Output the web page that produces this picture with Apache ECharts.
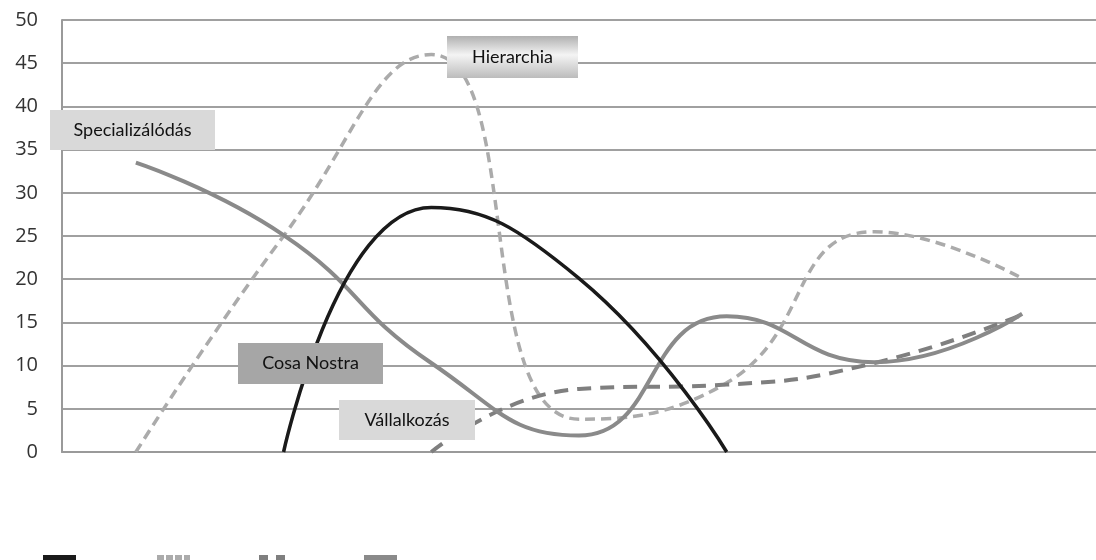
<!DOCTYPE html>
<html>
<head>
<meta charset="utf-8">
<script src="https://cdn.jsdelivr.net/npm/echarts@6/dist/echarts.min.js"></script>
<style>
  html, body { margin: 0; padding: 0; background: #fff; }
  #chart { width: 1096px; height: 560px; }
</style>
</head>
<body>
<div id="chart"></div>
<script>
// categories are not labelled in the picture
var categories = ["1", "2", "3", "4", "5", "6", "7"];
var yTicks = [0, 5, 10, 15, 20, 25, 30, 35, 40, 45, 50];

var cosaNostra = [null, 0, 28.3, 20.1, 0, null, null];
var hierarchia = [0, 25, 46, 3.8, 8, 25.5, 20.1];
var vallalkozas = [null, null, 0, 7.3, 7.8, 10.3, 15.9];
var specializalodas = [33.5, 25.1, 10.3, 1.9, 15.7, 10.4, 16];

var chartDom = document.getElementById("chart");
var myChart = echarts.init(chartDom);

function labelBox(x, y, w, h, text, fill) {
  return {
    type: "group",
    x: x,
    y: y,
    children: [
      { type: "rect", z: 100, shape: { x: 0, y: 0, width: w, height: h }, style: { fill: fill } },
      {
        type: "text",
        z: 101,
        x: w / 2,
        y: h / 2,
        style: {
          text: text,
          fill: "#111",
          font: "18px Lato",
          align: "center",
          verticalAlign: "middle",
        },
      },
    ],
  };
}

function legendItem(name, left, width, icon) {
  return {
    data: [name],
    left: left,
    top: 555,
    padding: 0,
    itemWidth: width,
    itemHeight: 8,
    icon: icon,
    selectedMode: false,
    formatter: function () {
      return "";
    },
  };
}

var option = {
  animation: false,
  backgroundColor: "#fff",
  grid: {
    left: 62,
    top: 20,
    width: 1044,
    height: 432,
  },
  legend: [
    legendItem("Cosa Nostra", 43, 33, "rect"),
    legendItem("Hierarchia", 157, 33, "path://M0,0h7v8h-7z M9,0h7v8h-7z M18,0h7v8h-7z M27,0h6v8h-6z"),
    legendItem("Vállalkozás", 259, 26, "path://M0,0h9v8h-9z M17,0h9v8h-9z"),
    legendItem("Specializálódás", 364, 33, "rect"),
  ],
  xAxis: {
    type: "category",
    boundaryGap: true,
    data: categories,
    axisLabel: { show: false },
    axisTick: { show: false },
    axisLine: { lineStyle: { color: "#9a9a9a", width: 2 } },
  },
  yAxis: {
    type: "value",
    min: yTicks[0],
    max: yTicks[yTicks.length - 1],
    interval: 5,
    axisLine: { show: true, lineStyle: { color: "#9a9a9a", width: 2 } },
    axisTick: { show: false },
    axisLabel: {
      color: "#333",
      fontSize: 20,
      fontFamily: "Open Sans",
      margin: 24,
    },
    splitLine: { lineStyle: { color: "#a0a0a0", width: 2 } },
  },
  series: [
    {
      name: "Hierarchia",
      type: "line",
      smooth: 0.5,
      showSymbol: false,
      symbol: "none",
      data: hierarchia,
      z: 2,
      itemStyle: { color: "#ababab" },
      lineStyle: { color: "#ababab", width: 3.5, type: [10, 6] },
    },
    {
      name: "Vállalkozás",
      type: "line",
      smooth: 0.5,
      showSymbol: false,
      symbol: "none",
      data: vallalkozas,
      z: 3,
      itemStyle: { color: "#7f7f7f" },
      lineStyle: { color: "#7f7f7f", width: 4, type: [14, 9] },
    },
    {
      name: "Specializálódás",
      type: "line",
      smooth: 0.5,
      showSymbol: false,
      symbol: "none",
      data: specializalodas,
      z: 4,
      itemStyle: { color: "#8a8a8a" },
      lineStyle: { color: "#8a8a8a", width: 4 },
    },
    {
      name: "Cosa Nostra",
      type: "line",
      smooth: 0.5,
      showSymbol: false,
      symbol: "none",
      data: cosaNostra,
      z: 5,
      itemStyle: { color: "#1a1a1a" },
      lineStyle: { color: "#1a1a1a", width: 3.5 },
    },
  ],
  graphic: [
    labelBox(50, 110, 165, 40, "Specializálódás", "#d9d9d9"),
    labelBox(447, 36, 131, 42, "Hierarchia", {
      type: "linear",
      x: 0, y: 0, x2: 0, y2: 1,
      colorStops: [
        { offset: 0, color: "#b0b0b0" },
        { offset: 0.45, color: "#f4f4f4" },
        { offset: 1, color: "#bcbcbc" },
      ],
    }),
    labelBox(238, 343, 145, 41, "Cosa Nostra", "#a6a6a6"),
    labelBox(339, 400, 136, 40, "Vállalkozás", "#d9d9d9"),
  ],
};

if (option && typeof option === "object") {
  myChart.setOption(option);
}

window.addEventListener("resize", myChart.resize);
</script>
</body>
</html>
